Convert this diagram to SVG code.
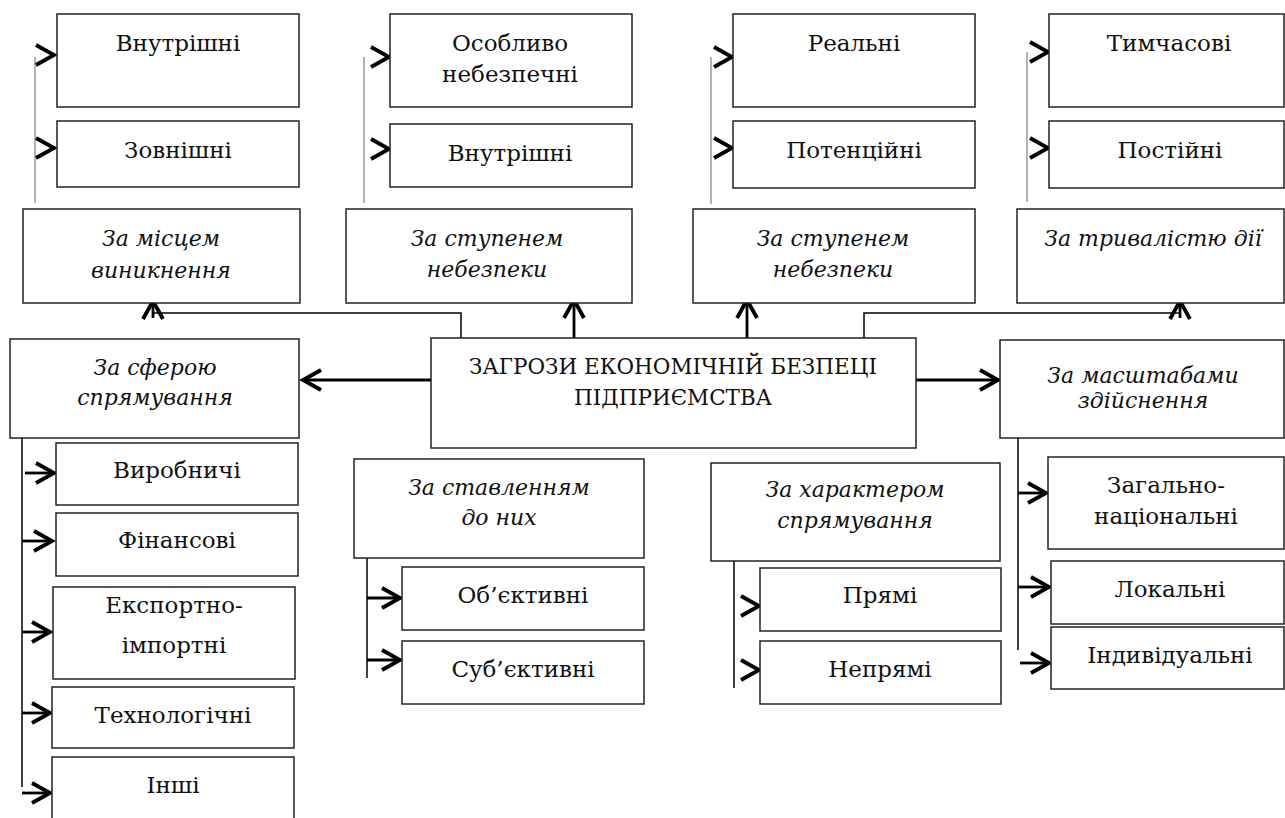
<svg xmlns="http://www.w3.org/2000/svg" width="1285" height="818" viewBox="0 0 1285 818">
<style>
.box{fill:#fff;stroke:#222;stroke-width:1.5}
.t{font-family:"DejaVu Serif","Liberation Serif",serif;font-size:23px;text-anchor:middle;fill:#111}
.i{font-style:italic;font-size:22px}
.h{font-size:21.5px}
.thick{stroke:#000;stroke-width:3;fill:none}
.thin{stroke:#000;stroke-width:1.5;fill:none}
.gray{stroke:#999;stroke-width:1.5;fill:none}
.arr{stroke:#000;stroke-width:2.8;fill:none;marker-end:url(#chev)}
.stub{stroke:#000;stroke-width:0.5;fill:none;marker-end:url(#chev)}
</style>
<defs>
<marker id="chev" markerUnits="userSpaceOnUse" markerWidth="26" markerHeight="26" viewBox="0 0 26 26" refX="21" refY="13" orient="auto">
<path d="M3,3 L21,13 L3,23" fill="none" stroke="#000" stroke-width="3.8"/>
</marker>
</defs>

<g id="connectors">
<line class="gray" x1="35" y1="57" x2="35" y2="203"/>
<line class="stub" x1="52" y1="55" x2="54" y2="55"/>
<line class="stub" x1="52" y1="148" x2="54" y2="148"/>
<line class="gray" x1="364" y1="57" x2="364" y2="203"/>
<line class="stub" x1="387" y1="57" x2="389" y2="57"/>
<line class="stub" x1="387" y1="149" x2="389" y2="149"/>
<line class="gray" x1="711" y1="57" x2="711" y2="204"/>
<line class="stub" x1="730" y1="57" x2="732" y2="57"/>
<line class="stub" x1="730" y1="148" x2="732" y2="148"/>
<line class="gray" x1="1027" y1="52" x2="1027" y2="202"/>
<line class="stub" x1="1046" y1="52" x2="1048" y2="52"/>
<line class="stub" x1="1046" y1="148" x2="1048" y2="148"/>

<polyline class="thin" points="461,338 461,313 153,313"/>
<line class="arr" x1="153" y1="318" x2="153" y2="301"/>
<polyline class="thin" points="864,338 864,313 1180,313"/>
<line class="arr" x1="1180" y1="318" x2="1180" y2="301"/>
<line class="arr" x1="574" y1="346" x2="574" y2="300"/>
<line class="arr" x1="747" y1="346" x2="747" y2="300"/>
<line class="arr" x1="431" y1="380" x2="303" y2="380"/>
<line class="arr" x1="916" y1="380" x2="998" y2="380"/>

<line class="thin" x1="22" y1="433" x2="22" y2="787"/>
<line class="arr" x1="25" y1="473" x2="54" y2="473"/>
<line class="arr" x1="22" y1="541" x2="52" y2="541"/>
<line class="arr" x1="22" y1="632" x2="50" y2="632"/>
<line class="arr" x1="22" y1="713" x2="50" y2="713"/>
<line class="arr" x1="22" y1="793" x2="50" y2="793"/>

<line class="thin" x1="367" y1="553" x2="367" y2="678"/>
<line class="arr" x1="367" y1="598" x2="400" y2="598"/>
<line class="arr" x1="367" y1="660" x2="400" y2="660"/>

<line class="thin" x1="734" y1="553" x2="734" y2="688"/>
<line class="stub" x1="757" y1="606" x2="759" y2="606"/>
<line class="stub" x1="757" y1="670" x2="759" y2="670"/>

<line class="thin" x1="1018" y1="433" x2="1018" y2="650"/>
<line class="arr" x1="1018" y1="493" x2="1046" y2="493"/>
<line class="arr" x1="1018" y1="587" x2="1049" y2="587"/>
<line class="arr" x1="1020" y1="663" x2="1049" y2="663"/>
</g>

<g id="n-vnutr1"><rect class="box" x="57" y="14" width="242" height="93"/><text class="t" x="178" y="51">Внутрішні</text></g>
<g id="n-zovn"><rect class="box" x="57" y="121" width="242" height="66"/><text class="t" x="178" y="158">Зовнішні</text></g>
<g id="n-mistse"><rect class="box" x="23" y="209" width="277" height="94"/><text class="t i" x="161" y="246">За місцем</text><text class="t i" x="161" y="278">виникнення</text></g>

<g id="n-osobl"><rect class="box" x="390" y="14" width="242" height="93"/><text class="t" x="510" y="51">Особливо</text><text class="t" x="510" y="82">небезпечні</text></g>
<g id="n-vnutr2"><rect class="box" x="390" y="124" width="242" height="63"/><text class="t" x="510" y="161">Внутрішні</text></g>
<g id="n-stup1"><rect class="box" x="346" y="209" width="286" height="94"/><text class="t i" x="487" y="246">За ступенем</text><text class="t i" x="487" y="277">небезпеки</text></g>

<g id="n-real"><rect class="box" x="733" y="14" width="242" height="93"/><text class="t" x="854" y="51">Реальні</text></g>
<g id="n-poten"><rect class="box" x="733" y="121" width="242" height="67"/><text class="t" x="854" y="158">Потенційні</text></g>
<g id="n-stup2"><rect class="box" x="693" y="209" width="282" height="94"/><text class="t i" x="833" y="246">За ступенем</text><text class="t i" x="833" y="277">небезпеки</text></g>

<g id="n-tymch"><rect class="box" x="1049" y="14" width="235" height="93"/><text class="t" x="1169" y="51">Тимчасові</text></g>
<g id="n-post"><rect class="box" x="1049" y="121" width="235" height="67"/><text class="t" x="1170" y="158">Постійні</text></g>
<g id="n-tryv"><rect class="box" x="1017" y="209" width="267" height="94"/><text class="t i" x="1153" y="246">За тривалістю дії</text></g>

<g id="n-center"><rect class="box" x="431" y="338" width="485" height="110"/><text class="t h" x="673" y="374">ЗАГРОЗИ ЕКОНОМІЧНІЙ БЕЗПЕЦІ</text><text class="t h" x="673" y="405">ПІДПРИЄМСТВА</text></g>

<g id="n-sfera"><rect class="box" x="10" y="339" width="289" height="99"/><text class="t i" x="155" y="375">За сферою</text><text class="t i" x="155" y="405">спрямування</text></g>
<g id="n-masht"><rect class="box" x="1000" y="340" width="284" height="98"/><text class="t i" x="1143" y="383">За масштабами</text><text class="t i" x="1143" y="408">здійснення</text></g>
<g id="n-stavl"><rect class="box" x="354" y="459" width="290" height="99"/><text class="t i" x="499" y="495">За ставленням</text><text class="t i" x="499" y="525">до них</text></g>
<g id="n-khar"><rect class="box" x="711" y="463" width="289" height="98"/><text class="t i" x="855" y="497">За характером</text><text class="t i" x="855" y="528">спрямування</text></g>

<g id="n-vyrob"><rect class="box" x="56" y="443" width="242" height="62"/><text class="t" x="177" y="478">Виробничі</text></g>
<g id="n-fin"><rect class="box" x="56" y="513" width="242" height="63"/><text class="t" x="177" y="548">Фінансові</text></g>
<g id="n-eksp"><rect class="box" x="53" y="587" width="242" height="92"/><text class="t" x="174" y="613">Експортно-</text><text class="t" x="174" y="653">імпортні</text></g>
<g id="n-tekh"><rect class="box" x="52" y="687" width="242" height="61"/><text class="t" x="173" y="723">Технологічні</text></g>
<g id="n-inshi"><rect class="box" x="52" y="757" width="242" height="70"/><text class="t" x="173" y="793">Інші</text></g>

<g id="n-obj"><rect class="box" x="402" y="567" width="242" height="63"/><text class="t" x="523" y="603">Об’єктивні</text></g>
<g id="n-subj"><rect class="box" x="402" y="641" width="242" height="63"/><text class="t" x="523" y="677">Суб’єктивні</text></g>
<g id="n-priami"><rect class="box" x="760" y="568" width="241" height="63"/><text class="t" x="880" y="603">Прямі</text></g>
<g id="n-nepriami"><rect class="box" x="760" y="641" width="241" height="63"/><text class="t" x="880" y="677">Непрямі</text></g>

<g id="n-zahal"><rect class="box" x="1048" y="457" width="236" height="92"/><text class="t" x="1166" y="493">Загально-</text><text class="t" x="1166" y="524">національні</text></g>
<g id="n-lokal"><rect class="box" x="1051" y="561" width="233" height="63"/><text class="t" x="1170" y="597">Локальні</text></g>
<g id="n-indyv"><rect class="box" x="1051" y="627" width="233" height="62"/><text class="t" x="1170" y="663">Індивідуальні</text></g>
</svg>
